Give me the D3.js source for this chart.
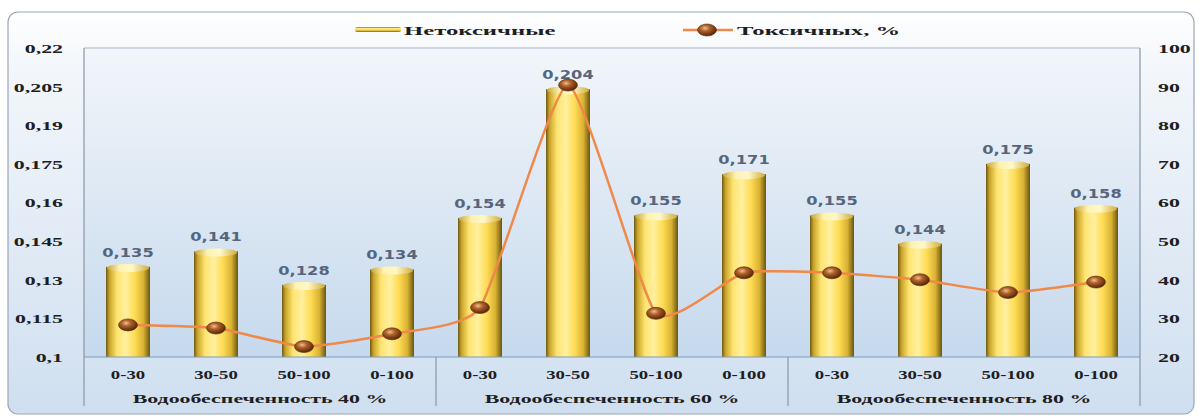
<!DOCTYPE html>
<html><head><meta charset="utf-8">
<script src="https://cdn.jsdelivr.net/npm/d3@7/dist/d3.min.js"></script>
<style>
html,body{margin:0;padding:0;background:#fff;}
svg{display:block;}
text{font-family:"Liberation Serif","DejaVu Serif",serif;font-weight:bold;}
</style></head>
<body>
<svg id="chart" width="1199" height="418"></svg>
<script>
// ---- data ----
const categories = ["0-30","30-50","50-100","0-100","0-30","30-50","50-100","0-100","0-30","30-50","50-100","0-100"];
const groups = ["Водообеспеченность  40 %","Водообеспеченность 60 %","Водообеспеченность 80 %"];
const nontoxic = [0.135,0.141,0.128,0.134,0.154,0.204,0.155,0.171,0.155,0.144,0.175,0.158];
const nontoxicLabels = ["0,135","0,141","0,128","0,134","0,154","0,204","0,155","0,171","0,155","0,144","0,175","0,158"];
const toxicPct = [28.3,27.5,22.7,26,32.8,90.4,31.3,41.8,41.8,40,36.7,39.4];
const leftTicks = [0.1,0.115,0.13,0.145,0.16,0.175,0.19,0.205,0.22];
const leftTickLabels = ["0,1","0,115","0,13","0,145","0,16","0,175","0,19","0,205","0,22"];
const rightTicks = [20,30,40,50,60,70,80,90,100];
const seriesNames = ["Нетоксичные","Токсичных, %"];

// ---- layout ----
const X0=84, X1=1140, Y0=48, Y1=357;
const svg = d3.select("#chart");
const defs = svg.append("defs");

function lin(id, x1,y1,x2,y2, stops){
  const g = defs.append("linearGradient").attr("id",id).attr("x1",x1).attr("y1",y1).attr("x2",x2).attr("y2",y2);
  stops.forEach(s=>g.append("stop").attr("offset",s[0]).attr("stop-color",s[1]));
}
lin("outerBg",0,0,0,1,[[0,"#ffffff"],[0.12,"#f4f7fb"],[1,"#cfdff0"]]);
lin("plotBg",0,0,0,1,[[0,"#f2f6fa"],[1,"#c6d9ed"]]);
lin("barG",0,0,1,0,[[0,"#6f5a14"],[0.08,"#c9a42a"],[0.25,"#ffe470"],[0.45,"#fff0a0"],[0.65,"#ffdc55"],[0.85,"#d9b232"],[1,"#6a5512"]]);
lin("capG",0,0,1,0,[[0,"#c8a63a"],[0.3,"#fff3b0"],[0.6,"#fff7c8"],[1,"#d0ae3c"]]);
lin("legBar",0,0,0,1,[[0,"#8a7220"],[0.3,"#ffe880"],[0.6,"#ffd94a"],[1,"#7a6418"]]);
const rg = defs.append("radialGradient").attr("id","mk").attr("cx","0.4").attr("cy","0.35").attr("r","0.7");
[[0,"#f2c090"],[0.35,"#b0622a"],[0.8,"#6a3210"],[1,"#3e1c06"]].forEach(s=>rg.append("stop").attr("offset",s[0]).attr("stop-color",s[1]));

// outer frame
svg.append("rect").attr("x",8).attr("y",12).attr("width",1186).attr("height",402).attr("rx",10)
  .attr("fill","url(#outerBg)").attr("stroke","#9aa6b6").attr("stroke-width",1.2);

// plot background
svg.append("rect").attr("x",X0).attr("y",Y0).attr("width",X1-X0).attr("height",Y1-Y0).attr("fill","url(#plotBg)");
svg.append("line").attr("x1",X0).attr("x2",X1).attr("y1",Y0).attr("y2",Y0).attr("stroke","#c0ccd8").attr("stroke-width",1.5);

// scales
const x = d3.scaleBand().domain(d3.range(categories.length)).range([X0,X1]).paddingInner(0.5).paddingOuter(0.25);
const step = x.step();
const yL = d3.scaleLinear().domain([0.1,0.22]).range([Y1,Y0]);
const yR = d3.scaleLinear().domain([20,100]).range([Y1,Y0]);

const SX = 1.75;
function stretch(sel, sx){
  sel.each(function(){
    const t=d3.select(this);
    const xx=+t.attr("x")||0, yy=+t.attr("y")||0;
    t.attr("x",0).attr("y",0).attr("transform",`translate(${xx},${yy}) scale(${sx},1)`);
  });
}

// bars
const bars = svg.append("g");
nontoxic.forEach((v,i)=>{
  const bx=x(i), bw=x.bandwidth(), top=yL(v);
  bars.append("rect").attr("x",bx).attr("y",top).attr("width",bw).attr("height",Y1-top).attr("fill","url(#barG)");
  bars.append("ellipse").attr("cx",bx+bw/2).attr("cy",top+1).attr("rx",bw/2-1).attr("ry",4).attr("fill","url(#capG)");
});

// baseline & axis lines
svg.append("line").attr("x1",X0).attr("x2",X1).attr("y1",Y1).attr("y2",Y1).attr("stroke","#7c9bbd").attr("stroke-width",1.2);
svg.append("line").attr("x1",X0).attr("x2",X0).attr("y1",Y0).attr("y2",406).attr("stroke","#8796a8").attr("stroke-width",1.2);
svg.append("line").attr("x1",X1).attr("x2",X1).attr("y1",Y0).attr("y2",406).attr("stroke","#8796a8").attr("stroke-width",1.2);
[1,2].forEach(g=>{
  const gx = x(g*4) - step*0.25;
  svg.append("line").attr("x1",gx).attr("x2",gx).attr("y1",Y1).attr("y2",406).attr("stroke","#8796a8").attr("stroke-width",1.2);
});

// data labels
svg.append("g").selectAll("text").data(nontoxic).join("text")
  .attr("x",(d,i)=>x(i)+x.bandwidth()/2).attr("y",d=>yL(d)-10)
  .attr("text-anchor","middle").attr("font-size",12.5).attr("fill","#56657a")
  .style("font-family","'DejaVu Sans',sans-serif").style("font-weight","bold")
  .text((d,i)=>nontoxicLabels[i]).call(s=>stretch(s,1.3));

// line
const line = d3.line().x((d,i)=>x(i)+x.bandwidth()/2).y(d=>yR(d)).curve(d3.curveCardinal.tension(0.5));
svg.append("path").datum(toxicPct).attr("d",line).attr("fill","none").attr("stroke","#f0884a").attr("stroke-width",2.5);
svg.append("g").selectAll("ellipse").data(toxicPct).join("ellipse")
  .attr("cx",(d,i)=>x(i)+x.bandwidth()/2).attr("cy",d=>yR(d)).attr("rx",9.5).attr("ry",6)
  .attr("fill","url(#mk)").attr("stroke","#5a2a0a").attr("stroke-width",0.6);

// left axis
const axL = svg.append("g").attr("transform",`translate(${X0},0)`)
  .call(d3.axisLeft(yL).tickValues(leftTicks).tickFormat((d,i)=>leftTickLabels[i]).tickSize(0).tickPadding(21));
axL.select(".domain").remove();
axL.selectAll("text").attr("font-size",12.5).attr("fill","#1e1e1e").style("font-family","'Liberation Serif',serif").style("font-weight","bold")
  .attr("dy","0.35em");
axL.selectAll(".tick text").each(function(){
  const t=d3.select(this); t.attr("transform",`translate(-21,0) scale(${SX},1)`).attr("x",0);
});

// right axis
const axR = svg.append("g").attr("transform",`translate(${X1},0)`)
  .call(d3.axisRight(yR).tickValues(rightTicks).tickSize(0).tickPadding(18));
axR.select(".domain").remove();
axR.selectAll("text").attr("font-size",12.5).attr("fill","#1e1e1e").style("font-family","'Liberation Serif',serif").style("font-weight","bold")
  .attr("dy","0.35em");
axR.selectAll(".tick text").each(function(){
  const t=d3.select(this); t.attr("transform",`translate(18,0) scale(${SX},1)`).attr("x",0);
});

// category labels
svg.append("g").selectAll("text").data(categories).join("text")
  .attr("x",(d,i)=>x(i)+x.bandwidth()/2).attr("y",379)
  .attr("text-anchor","middle").attr("font-size",12.5).attr("fill","#1e1e1e")
  .text(d=>d).call(s=>stretch(s,1.5));

// group labels
svg.append("g").selectAll("text").data(groups).join("text")
  .attr("x",(d,i)=>x(i*4) - step*0.25 + step*2).attr("y",403)
  .attr("text-anchor","middle").attr("font-size",12.5).attr("fill","#1e1e1e")
  .text(d=>d).call(s=>stretch(s,SX));

// legend
const lg = svg.append("g");
lg.append("rect").attr("x",355).attr("y",27).attr("width",46).attr("height",5).attr("rx",2).attr("fill","url(#legBar)");
lg.append("text").attr("x",404).attr("y",35).attr("font-size",13).attr("fill","#1e1e1e").text(seriesNames[0]).call(s=>stretch(s,1.9));
lg.append("line").attr("x1",683).attr("x2",733).attr("y1",30).attr("y2",30).attr("stroke","#f0884a").attr("stroke-width",2.5);
lg.append("ellipse").attr("cx",707).attr("cy",30).attr("rx",9.5).attr("ry",6).attr("fill","url(#mk)").attr("stroke","#5a2a0a").attr("stroke-width",0.6);
lg.append("text").attr("x",737).attr("y",35).attr("font-size",13).attr("fill","#1e1e1e").text(seriesNames[1]).call(s=>stretch(s,1.9));
</script>
</body></html>
